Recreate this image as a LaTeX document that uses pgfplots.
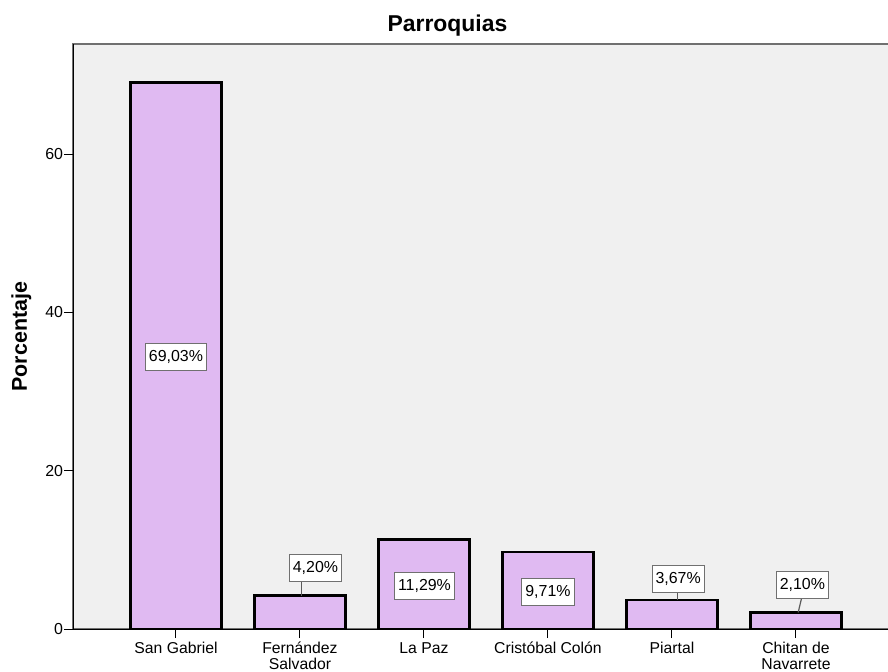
\documentclass[border=0pt]{standalone}
\usepackage{pgfplots}
\pgfplotsset{compat=1.18}
\usepackage{fontspec}
\setmainfont{Liberation Sans}
\definecolor{panel}{HTML}{F0F0F0}
\definecolor{barfill}{HTML}{E0BAF2}
\definecolor{frame}{HTML}{707070}

\pgfplotstableread{
x  pct
0  69.03
1  4.20
2  11.29
3  9.71
4  3.67
5  2.10
}\parroquias

\begin{document}
\begin{tikzpicture}[
  lbl/.style={draw=frame, fill=white, line width=0.9bp, inner xsep=3.5bp,
    minimum height=27bp, font=\fontsize{16}{18}\selectfont},
  lead/.style={draw=frame!80!black, line width=1.2bp}]
\begin{axis}[
  at={(0,0)}, anchor=south west,
  scale only axis, width=820bp, height=584.7bp,
  xmin=-0.828, xmax=5.785, ymin=0, ymax=73.86,
  ybar, bar width=91bp, clip=false,
  axis background/.style={fill=panel, draw=frame, line width=1.8bp},
  axis x line*=bottom, axis y line*=left,
  axis line style={black, line width=1bp, -},
  tick align=outside, major tick length=9bp,
  tick style={black, line width=1bp},
  xtick=data,
  xticklabels={San Gabriel, Fernández\\Salvador, La Paz, Cristóbal Colón, Piartal, Chitan de\\Navarrete},
  xticklabel style={align=center, font=\fontsize{15.8}{15.5}\selectfont, inner sep=1bp, yshift=-3bp},
  ytick={0,20,40,60},
  yticklabel style={font=\fontsize{16}{18}\selectfont, inner xsep=1bp},
  /pgf/number format/assume math mode=true,
  title={Parroquias},
  every axis title/.style={at={(rel axis cs:0.4563,1)}, anchor=base, yshift=12.6bp,
    font=\bfseries\fontsize{23}{26}\selectfont},
  ylabel={Porcentaje},
  every axis y label/.style={at={(rel axis cs:0,0.5)}, rotate=90, anchor=center,
    yshift=52bp, font=\bfseries\fontsize{21.5}{24}\selectfont},
]
\addplot[fill=barfill, draw=black, line width=2.6bp] table[x=x, y=pct] {\parroquias};

\node[lbl] at (axis cs:0,34.4) {69,03\%};
\draw[lead] (axis cs:1.014,4.20) -- (axis cs:1.014,6.06);
\node[lbl] at (axis cs:1.125,7.77) {4,20\%};
\node[lbl] at (axis cs:2.004,5.43) {11,29\%};
\node[lbl] at (axis cs:3.0,4.67) {9,71\%};
\draw[lead] (axis cs:4.045,3.67) -- (axis cs:4.045,4.64);
\node[lbl] at (axis cs:4.05,6.32) {3,67\%};
\draw[lead] (axis cs:5.018,2.10) -- (axis cs:5.045,3.88);
\node[lbl] at (axis cs:5.052,5.56) {2,10\%};
\end{axis}
\pgfresetboundingbox
\path[use as bounding box] (-73.3bp,-43bp) rectangle (814.7bp,629bp);
\end{tikzpicture}
\end{document}
